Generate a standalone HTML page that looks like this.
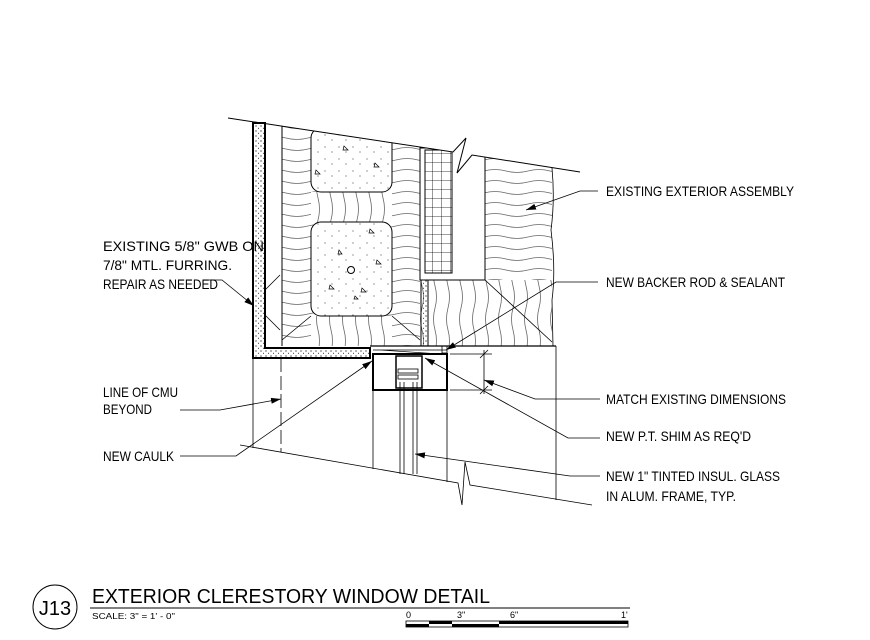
<!DOCTYPE html>
<html><head><meta charset="utf-8"><style>
html,body{margin:0;padding:0;background:#fff;}
svg{display:block;}
text{font-family:"Liberation Sans",sans-serif;fill:#000;}
</style></head><body>
<svg width="870" height="640" viewBox="0 0 870 640" xmlns="http://www.w3.org/2000/svg">
<defs>
<pattern id="wave" width="44" height="11" patternUnits="userSpaceOnUse">
<path d="M0 6 Q11 3 22 6 T44 6" fill="none" stroke="#666" stroke-width="0.8"/>
</pattern>
<pattern id="vwave" width="13" height="44" patternUnits="userSpaceOnUse">
<path d="M6 0 Q3 11 6 22 T6 44" fill="none" stroke="#666" stroke-width="0.8"/>
</pattern>
<pattern id="dots" width="5" height="5" patternUnits="userSpaceOnUse">
<circle cx="1" cy="1" r="0.6" fill="#000"/><circle cx="3.5" cy="3.2" r="0.5" fill="#000"/>
</pattern>
<pattern id="sdots" width="14" height="12" patternUnits="userSpaceOnUse">
<circle cx="3" cy="3" r="0.5" fill="#000"/><circle cx="10" cy="8" r="0.5" fill="#000"/>
</pattern>
<pattern id="grid" width="9" height="9" patternUnits="userSpaceOnUse">
<path d="M0 0H9M0 0V9" stroke="#000" stroke-width="0.8" fill="none"/>
</pattern>
<marker id="ar" markerWidth="10" markerHeight="6" refX="10" refY="3" orient="auto" markerUnits="userSpaceOnUse">
<path d="M0 0L10 3L0 6Z" fill="#000"/>
</marker>
</defs>

<rect x="282" y="126" width="138" height="220" fill="url(#wave)"/>
<rect x="485" y="150" width="67" height="196" fill="url(#wave)"/>
<rect x="420" y="280" width="132" height="66" fill="#fff"/>
<rect x="420" y="280" width="132" height="66" fill="url(#vwave)"/>
<rect x="311" y="192" width="81" height="30" fill="#fff"/>
<rect x="311" y="192" width="81" height="30" fill="url(#vwave)"/>
<rect x="311" y="316" width="81" height="30" fill="#fff"/>
<rect x="311" y="316" width="81" height="30" fill="url(#vwave)"/>
<rect x="311" y="128" width="81" height="64" rx="10" fill="#fff" stroke="#000" stroke-width="1"/>
<rect x="311" y="222" width="81" height="94" rx="10" fill="#fff" stroke="#000" stroke-width="1"/>
<rect x="311" y="128" width="81" height="64" rx="10" fill="url(#sdots)"/>
<rect x="311" y="222" width="81" height="94" rx="10" fill="url(#sdots)"/>
<circle cx="351" cy="270" r="3.5" fill="none" stroke="#000"/>
<g fill="none" stroke="#000" stroke-width="0.7">
<path d="M344 146l4 4h-5z M375 163l4 4h-5z M316 170l4 4h-5z M370 229l4 4h-5z M377 260l4 4h-5z M362 288l4 4h-5z M330 285l4 4h-5z M339 250l3 4h-4z M355 296l3 3h-4z"/>
</g>
<line x1="282" y1="340" x2="311" y2="316" stroke="#000" stroke-width="0.8"/>
<line x1="392" y1="316" x2="420" y2="340" stroke="#000" stroke-width="0.8"/>
<line x1="485" y1="280" x2="552" y2="342" stroke="#000" stroke-width="0.8"/>
<line x1="282" y1="126" x2="282" y2="346" stroke="#000" stroke-width="1"/>
<rect x="420" y="148" width="65" height="132" fill="#fff" stroke="#000" stroke-width="1"/>
<rect x="425" y="150" width="27" height="123" fill="url(#grid)" stroke="#000" stroke-width="1"/>
<rect x="421" y="280" width="7" height="66" fill="url(#dots)" stroke="#000" stroke-width="1"/>
<polygon points="228,118 453,152 580,173 580,100 228,100" fill="#fff"/>
<path d="M228 118 L453 152 L466 138 L457 173 L472 155 L580 172" stroke="#000" stroke-width="1" fill="none"/>
<path d="M552 168 Q555 200 551 230 Q556 270 552 300 L553 346" fill="none" stroke="#000" stroke-width="0.8"/>
<path d="M253 123 V358 H370 V348 H265 V123 Z" fill="url(#dots)" stroke="#000" stroke-width="2"/>
<line x1="265" y1="290" x2="280" y2="275" stroke="#000" stroke-width="0.8"/>
<line x1="265" y1="315" x2="280" y2="330" stroke="#000" stroke-width="0.8"/>
<line x1="370" y1="346" x2="556" y2="346" stroke="#000" stroke-width="1.2"/>

<rect x="373" y="354" width="74" height="36" fill="#fff" stroke="#000" stroke-width="2"/>
<rect x="396" y="356" width="26" height="32" fill="#fff" stroke="#000" stroke-width="1.5"/>
<rect x="398" y="369" width="20" height="4" fill="none" stroke="#000" stroke-width="0.8"/>
<rect x="398" y="375" width="20" height="4" fill="none" stroke="#000" stroke-width="0.8"/>
<path d="M373 350 L447 350 M380 350 L440 354" stroke="#000" stroke-width="0.7"/>
<rect x="442" y="346" width="5" height="7" fill="none" stroke="#000" stroke-width="0.8"/>
<g stroke="#000" stroke-width="0.8" fill="none">
<line x1="253" y1="358" x2="253" y2="448"/>
<line x1="281" y1="358" x2="281" y2="452" stroke-dasharray="14,4"/>
<line x1="373" y1="390" x2="373" y2="469"/>
<line x1="447" y1="390" x2="447" y2="482"/>
<line x1="400" y1="382" x2="400" y2="474"/>
<line x1="404" y1="382" x2="404" y2="474"/>
<line x1="413" y1="382" x2="413" y2="474"/>
<line x1="417" y1="382" x2="417" y2="474"/>
<line x1="556" y1="346" x2="556" y2="500"/>
<path d="M240 445 L458 483 L462 505 L465 462 L470 485 L592 505"/>
<line x1="450" y1="354" x2="492" y2="354"/>
<line x1="450" y1="390" x2="492" y2="390"/>
<line x1="484" y1="350" x2="484" y2="394"/>
<line x1="480" y1="358" x2="488" y2="350"/>
<line x1="480" y1="394" x2="488" y2="386"/>
</g>

<g stroke="#000" stroke-width="0.8" fill="none" marker-end="url(#ar)">
<path d="M598 191 L580 191 L526 210"/>
<path d="M598 282 L556 282 L446 350"/>
<path d="M205 280 L222 280 L254 306"/>
<path d="M180 410 L220 410 L281 399"/>
<path d="M180 456 L236 456 L372 361"/>
<path d="M600 399 L535 399 L484 380"/>
<path d="M600 438 L568 438 L425 358"/>
<path d="M600 476 L570 476 L415 454"/>
</g>

<g font-size="14">
<text x="606" y="196" textLength="188" lengthAdjust="spacingAndGlyphs">EXISTING EXTERIOR ASSEMBLY</text>
<text x="606" y="287" textLength="179" lengthAdjust="spacingAndGlyphs">NEW BACKER ROD &amp; SEALANT</text>
<text x="606" y="404" textLength="180" lengthAdjust="spacingAndGlyphs">MATCH EXISTING DIMENSIONS</text>
<text x="606" y="441" textLength="145" lengthAdjust="spacingAndGlyphs">NEW P.T. SHIM AS REQ'D</text>
<text x="606" y="481" textLength="174" lengthAdjust="spacingAndGlyphs">NEW 1" TINTED INSUL. GLASS</text>
<text x="606" y="501" textLength="130" lengthAdjust="spacingAndGlyphs">IN ALUM. FRAME, TYP.</text>
<text x="103" y="251" textLength="161" lengthAdjust="spacingAndGlyphs">EXISTING 5/8" GWB ON</text>
<text x="103" y="270" textLength="129" lengthAdjust="spacingAndGlyphs">7/8" MTL. FURRING.</text>
<text x="103" y="289" textLength="115" lengthAdjust="spacingAndGlyphs">REPAIR AS NEEDED</text>
<text x="103" y="397" textLength="75" lengthAdjust="spacingAndGlyphs">LINE OF CMU</text>
<text x="103" y="414" textLength="49" lengthAdjust="spacingAndGlyphs">BEYOND</text>
<text x="103" y="461" textLength="71" lengthAdjust="spacingAndGlyphs">NEW CAULK</text>
</g>

<circle cx="55" cy="607" r="22" fill="none" stroke="#000" stroke-width="1"/>
<text x="55" y="615" font-size="20" text-anchor="middle">J13</text>
<text x="92" y="603" font-size="20" textLength="398" lengthAdjust="spacingAndGlyphs">EXTERIOR CLERESTORY WINDOW DETAIL</text>
<line x1="90" y1="608" x2="630" y2="608" stroke="#000" stroke-width="1"/>
<text x="92" y="619" font-size="8" textLength="83" lengthAdjust="spacingAndGlyphs">SCALE: 3" = 1' - 0"</text>
<g font-size="9">
<text x="406" y="618">0</text><text x="457" y="618">3"</text><text x="510" y="618">6"</text><text x="621" y="618">1'</text>
</g>
<rect x="406" y="621" width="222" height="6" fill="#fff" stroke="#000" stroke-width="0.8"/>
<rect x="406" y="624" width="23" height="3" fill="#000"/>
<rect x="429" y="621" width="23" height="3" fill="#000"/>
<rect x="452" y="624" width="47" height="3" fill="#000"/>
<rect x="499" y="621" width="129" height="3" fill="#000"/>
</svg>
</body></html>
